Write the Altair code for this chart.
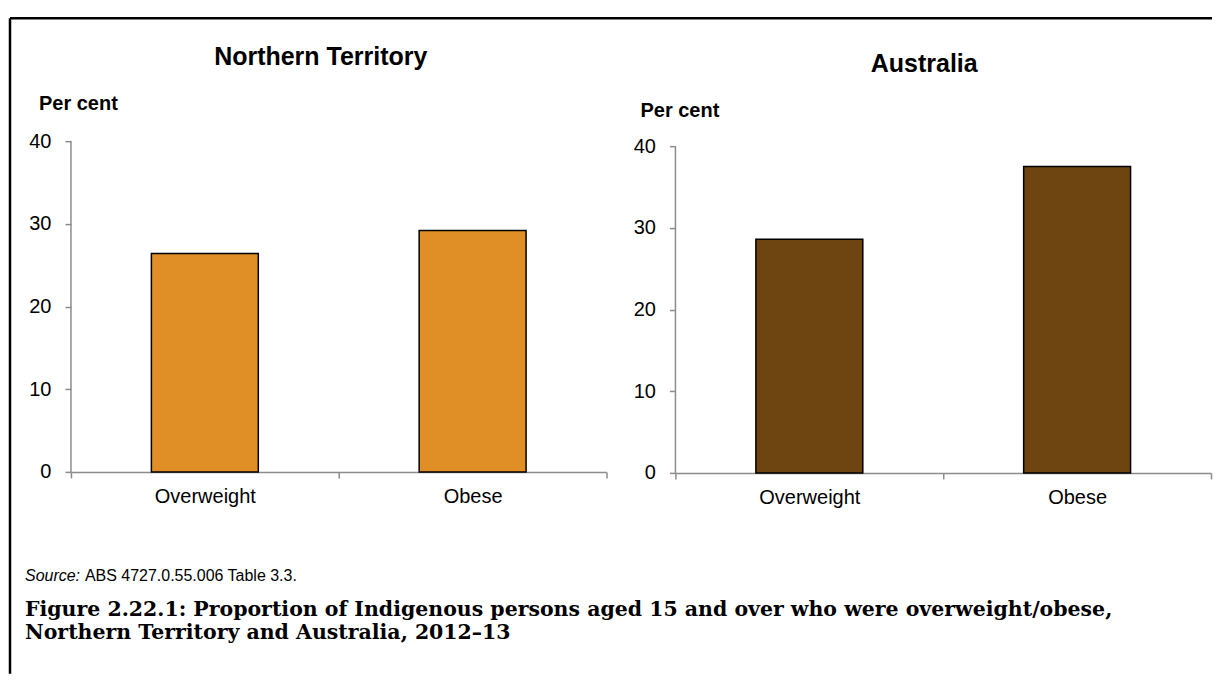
import altair as alt
import pandas as pd

categories = ["Overweight", "Obese"]
nt_values = [26.4, 29.2]
aus_values = [28.6, 37.5]
y_ticks = [0, 10, 20, 30, 40]

nt_title = "Northern Territory"
aus_title = "Australia"
y_label = "Per cent"
source_label = "Source:"
source_text = "ABS 4727.0.55.006 Table 3.3."
caption_lines = [
    "Figure 2.22.1: Proportion of Indigenous persons aged 15 and over who were overweight/obese,",
    "Northern Territory and Australia, 2012\u201313",
]

NT_COLOR = "#E08E26"
AUS_COLOR = "#6E4511"
GREY = "#8c8c8c"
SANS = "Liberation Sans"
SERIF = "DejaVu Serif"

W = 536


def txt(s, x, y, size, weight="normal", style="normal", align="left", font=SANS):
    return alt.Chart(pd.DataFrame({"t": [s]})).mark_text(
        font=font, fontSize=size, fontWeight=weight, fontStyle=style,
        align=align, baseline="middle", color="black"
    ).encode(x=alt.value(x), y=alt.value(y), text="t:N")


def panel(values, color, height, ymax, title, tx, ty, px, py, extra):
    df = pd.DataFrame({"category": categories, "value": values})
    xenc = alt.X(
        "category:N", sort=categories,
        scale=alt.Scale(paddingInner=0, paddingOuter=0),
        axis=alt.Axis(title=None, labelAngle=0, tickBand="extent", domainColor=GREY,
                      domainWidth=1.5, tickColor=GREY, tickWidth=1.5, tickSize=6,
                      labelFont=SANS, labelFontSize=20, labelColor="black",
                      labelPadding=9),
    )
    yscale = alt.Scale(domain=[0, ymax], nice=False, zero=True)
    yaxis = alt.Axis(title=None, values=y_ticks, grid=False, domain=False,
                     tickColor=GREY, tickWidth=1.5, tickSize=6,
                     labelFont=SANS, labelFontSize=20, labelColor="black",
                     labelPadding=14)
    bars = alt.Chart(df).mark_bar(size=107, color=color, stroke="black",
                                  strokeWidth=1.5).encode(
        x=xenc, y=alt.Y("value:Q", scale=yscale, axis=yaxis))
    axis_line = alt.Chart(pd.DataFrame({"value": [min(y_ticks)], "top": [max(y_ticks)]})).mark_rule(
        color=GREY, strokeWidth=1.5
    ).encode(x=alt.value(0), y=alt.Y("value:Q", scale=yscale, axis=yaxis), y2="top:Q")
    layers = [bars, axis_line,
              txt(title, tx, ty, 25, weight="bold", align="center"),
              txt(y_label, px, py, 20, weight="bold")] + extra
    return alt.layer(*layers).properties(width=W, height=height)


frame_top = alt.Chart(pd.DataFrame({"a": [0]})).mark_rule(color="black", strokeWidth=2.5).encode(
    x=alt.value(-61), x2=alt.value(1142), y=alt.value(-123))
frame_left = alt.Chart(pd.DataFrame({"a": [0]})).mark_rule(color="black", strokeWidth=2.5).encode(
    x=alt.value(-61), y=alt.value(-123), y2=alt.value(533))

left_extra = [
    frame_top, frame_left,
    txt(source_label, -46, 435, 16, style="italic"),
    txt(source_text, 14, 435, 16),
    txt(caption_lines[0], -46, 469, 20.5, weight="bold", font=SERIF),
    txt(caption_lines[1], -46, 492, 20.5, weight="bold", font=SERIF),
]

left = panel(nt_values, NT_COLOR, 331, 40, nt_title, 250, -84, -32, -37, left_extra)
right = panel(aus_values, AUS_COLOR, 332, 40 * 332 / 327, aus_title, 249, -77, -35, -30, [])

chart = alt.hconcat(left, right, spacing=69, bounds="flush").properties(
    padding={"left": 0, "top": 8, "right": 0, "bottom": 0}
).configure(background="white", view=alt.ViewConfig(stroke=None))

chart.save("out.html", embed_options={"renderer": "svg", "actions": False})
